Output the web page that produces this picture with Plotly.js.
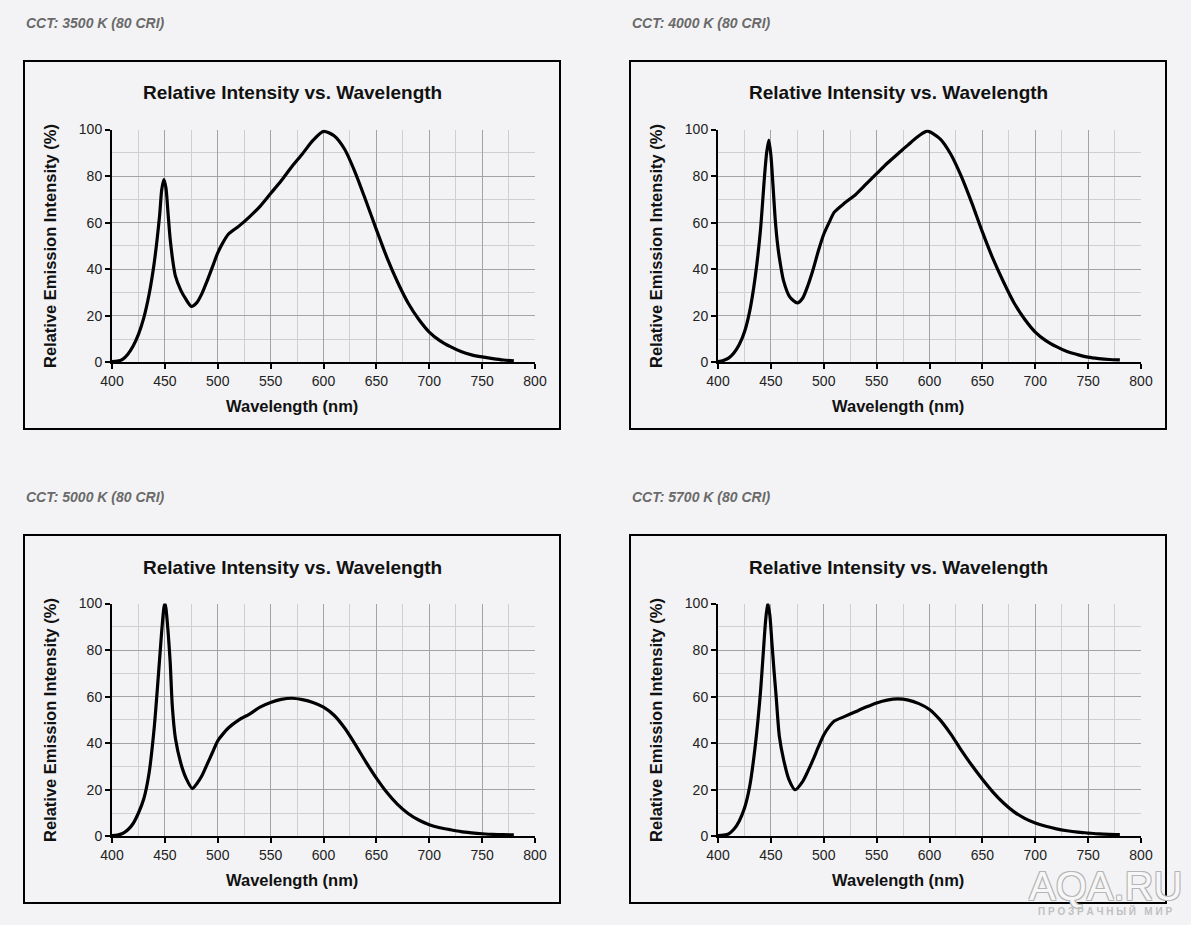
<!DOCTYPE html>
<html>
<head>
<meta charset="utf-8">
<script src="https://cdn.plot.ly/plotly-3.0.1.min.js"></script>
<style>
  html, body { margin: 0; padding: 0; background: #f3f3f5; }
  #chart { width: 1191px; height: 925px; }
</style>
</head>
<body>
<div id="chart"></div>
<script>
// ---- Data ----
const panelLabels = ["CCT: 3500 K (80 CRI)", "CCT: 4000 K (80 CRI)", "CCT: 5000 K (80 CRI)", "CCT: 5700 K (80 CRI)"];
const chartTitle = "Relative Intensity vs. Wavelength";
const xTitle = "Wavelength (nm)";
const yTitle = "Relative Emission Intensity (%)";

const wl35 = [400,405,410,415,420,425,430,435,440,445,447,449,451,453,455,458,460,465,470,475,480,485,490,495,500,505,510,520,530,540,550,560,570,580,590,600,610,620,630,640,650,660,670,680,690,700,710,720,730,740,750,760,770,780];
const i35  = [0.3,0.5,1.3,3.5,7,12,19,29,43,63,74,78.5,75,64,53,42,37,31,27,24,25.5,29.5,35,41,47,51.5,55,58.5,62.5,67,72.5,78,84,89.5,95.3,99.2,97.3,91.5,81.5,69.5,57,45,34.5,25.5,18.5,13,9.3,6.7,4.6,3.2,2.3,1.6,1.0,0.6];

const wl40 = [400,405,410,415,420,425,430,435,440,444,446,448,450,452,454,456,458,462,468,475,480,485,490,495,500,505,510,520,530,540,550,560,570,580,590,598,610,620,630,640,650,660,670,680,690,700,710,720,730,740,750,760,770,780];
const i40  = [0.3,0.8,1.8,4,7.5,13,22,36,56,80,90,95.5,89,76,62,52,45,35,28,25.5,27.5,33,40,48,55,60,64.5,68.5,72,76.5,81,85.5,89.5,93.5,97.3,99.3,96,89.5,80,68.5,56,44.5,34.5,25.5,18.5,13,9.3,6.7,4.6,3.3,2.2,1.6,1.2,1.0];

const wl50 = [400,405,410,415,420,425,430,435,440,443,445,447,449,450,451,453,455,457,460,465,470,476,480,485,490,495,500,505,510,520,530,540,550,560,570,580,590,600,610,620,630,640,650,660,670,680,690,700,710,720,730,740,750,760,770,780];
const i50  = [0.3,0.5,1.2,2.8,5.5,10,16,27,47,64,76,88,98,100,98,88,75,56,42,31.5,25,20.5,22.5,26,31,36,41,44,46.5,50,52.5,55.5,57.5,58.8,59.3,58.7,57.5,55.5,52,46.5,39.5,32,25,18.8,13.7,9.8,7,5,3.7,2.8,2,1.5,1.1,0.8,0.7,0.6];

const wl57 = [400,405,410,415,420,425,430,435,440,443,445,447,449,451,453,455,458,462,467,473,480,485,490,495,500,505,510,520,530,540,550,560,570,580,590,600,610,620,630,640,650,660,670,680,690,700,710,720,730,740,750,760,770,780];
const i57  = [0.3,0.5,1.0,3,6.5,12,21.5,38,61,80,92.5,100,95,83,71,60,43,33,24.5,20,23.5,28,33,38.5,43.5,47,49.5,51.5,53.5,55.5,57.3,58.5,59,58.5,57,54.5,50,44,37,30.5,24.5,19,14.3,10.5,7.7,5.7,4.3,3.2,2.4,1.8,1.4,1.0,0.8,0.7];

const xTicks = [400,450,500,550,600,650,700,750,800];
const yTicks = [0,20,40,60,80,100];

const seriesX = [wl35, wl40, wl50, wl57];
const seriesY = [i35, i40, i50, i57];

// ---- Layout helpers (pixel -> paper) ----
const W = 1191, H = 925;
const px = x => x / W;
const py = y => 1 - y / H;
const FONT = "Liberation Sans, Arial, Helvetica, sans-serif";
const BG = "#f3f3f5";

// panel offsets (pixels)
const offs = [[0,0],[606,0],[0,474],[606,474]];

const traces = [];
const layout = {
  width: W, height: H,
  margin: {l:0, r:0, t:0, b:0},
  paper_bgcolor: BG,
  plot_bgcolor: BG,
  showlegend: false,
  font: {family: FONT, color: "#222"},
  annotations: [],
  shapes: []
};

offs.forEach(([dx, dy], k) => {
  const n = k + 1;
  const xa = n === 1 ? "x" : "x" + n;
  const ya = n === 1 ? "y" : "y" + n;
  traces.push({
    type: "scatter", mode: "lines",
    x: seriesX[k], y: seriesY[k],
    xaxis: xa, yaxis: ya,
    line: {color: "#000", width: 3.2, shape: "spline", smoothing: 0.7},
    hoverinfo: "skip"
  });
  const common = {
    showgrid: true, gridcolor: "#a3a3a3", gridwidth: 1,
    showline: true, linecolor: "#000", linewidth: 2,
    ticks: "outside", ticklen: 5, tickwidth: 2, tickcolor: "#000",
    tickfont: {family: FONT, size: 14, color: "#222"},
    zeroline: false, fixedrange: true
  };
  layout["xaxis" + (n === 1 ? "" : n)] = Object.assign({}, common, {
    domain: [px(112 + dx), px(535 + dx)],
    anchor: ya,
    range: [xTicks[0], xTicks[xTicks.length - 1]],
    tickmode: "array", tickvals: xTicks, ticktext: xTicks.map(String),
    minor: {dtick: 25, tick0: 400, showgrid: true, gridcolor: "#cfcfcf", gridwidth: 1}
  });
  layout["yaxis" + (n === 1 ? "" : n)] = Object.assign({}, common, {
    domain: [py(362.3 + dy), py(129.5 + dy)],
    anchor: xa,
    range: [yTicks[0], yTicks[yTicks.length - 1]],
    tickmode: "array", tickvals: yTicks, ticktext: yTicks.map(String),
    minor: {dtick: 10, tick0: 0, showgrid: true, gridcolor: "#cfcfcf", gridwidth: 1}
  });

  // framed box
  layout.shapes.push({
    type: "rect", xref: "paper", yref: "paper",
    x0: px(24 + dx), x1: px(560 + dx), y0: py(429 + dy), y1: py(61 + dy),
    line: {color: "#000", width: 2}, fillcolor: "rgba(0,0,0,0)", layer: "below"
  });

  // panel label
  layout.annotations.push({
    xref: "paper", yref: "paper", x: px(24 + dx), y: py(23 + dy),
    xanchor: "left", yanchor: "middle", showarrow: false,
    text: "<b><i>" + panelLabels[k] + "</i></b>",
    font: {family: FONT, size: 14, color: "#6a6a6a"}
  });
  // chart title
  layout.annotations.push({
    xref: "paper", yref: "paper", x: px(292 + dx), y: py(93 + dy),
    xanchor: "center", yanchor: "middle", showarrow: false,
    text: "<b>" + chartTitle + "</b>",
    font: {family: FONT, size: 19, color: "#111"}
  });
  // y title
  layout.annotations.push({
    xref: "paper", yref: "paper", x: px(50 + dx), y: py(246 + dy),
    xanchor: "center", yanchor: "middle", showarrow: false, textangle: -90,
    text: "<b>" + yTitle + "</b>",
    font: {family: FONT, size: 16.5, color: "#111"}
  });
  // x title
  layout.annotations.push({
    xref: "paper", yref: "paper", x: px(292 + dx), y: py(406 + dy),
    xanchor: "center", yanchor: "middle", showarrow: false,
    text: "<b>" + xTitle + "</b>",
    font: {family: FONT, size: 16.5, color: "#111"}
  });
});

// watermark
layout.annotations.push({
  xref: "paper", yref: "paper", x: px(1105), y: py(886),
  xanchor: "center", yanchor: "middle", showarrow: false,
  text: "AQA.RU",
  font: {family: FONT, size: 40, color: "#f7f7f7",
         shadow: "1px 1px 0 #b5b5b5, -1px -1px 0 #b5b5b5, 1px -1px 0 #b5b5b5, -1px 1px 0 #b5b5b5"}
});
layout.annotations.push({
  xref: "paper", yref: "paper", x: px(1105), y: py(911),
  xanchor: "center", yanchor: "middle", showarrow: false,
  text: "<b>П Р О З Р А Ч Н Ы Й   М И Р</b>",
  font: {family: FONT, size: 10, color: "#c0c0c0"}
});

Plotly.newPlot("chart", traces, layout, {displayModeBar: false, staticPlot: true});
</script>
</body>
</html>
